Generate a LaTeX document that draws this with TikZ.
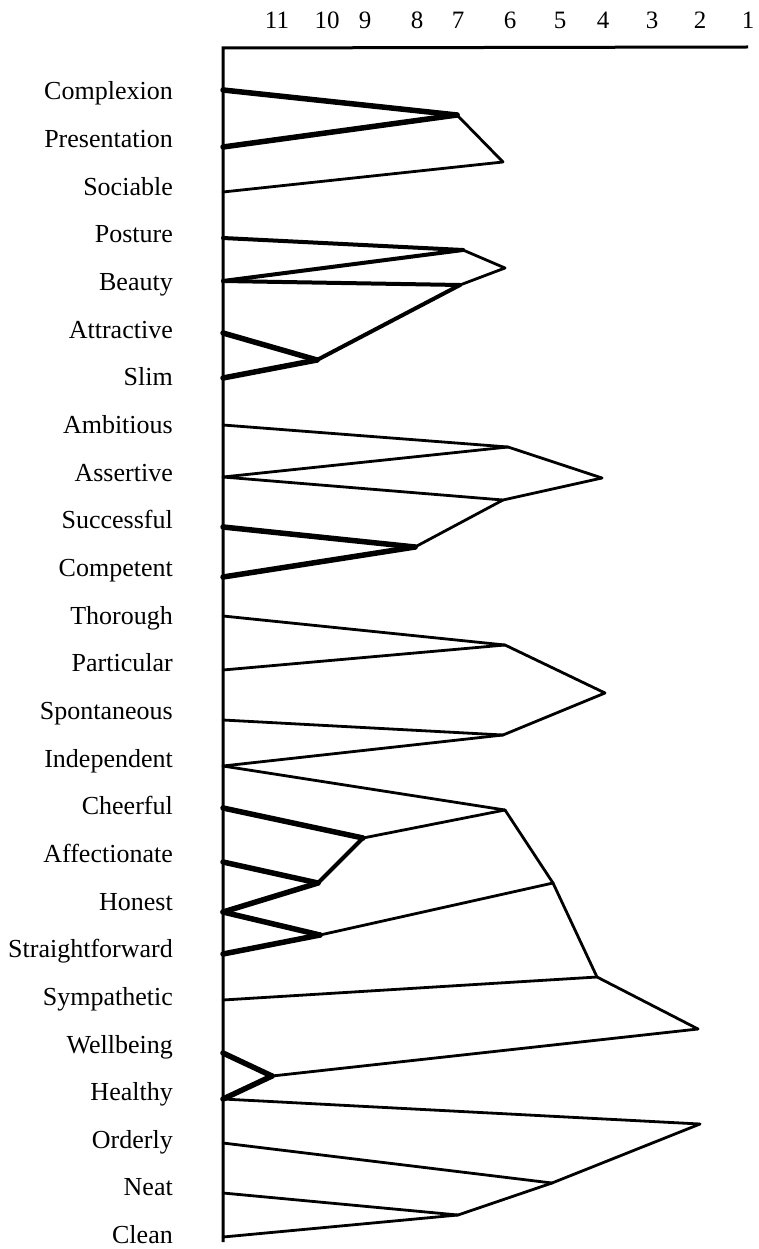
\documentclass[tikz,border=0pt]{standalone}
\usepackage{fontspec}
\setmainfont{Liberation Serif}

\begin{document}
\begin{tikzpicture}[x=1pt, y=-1pt,
  trait/.style={anchor=base east, inner sep=0pt, font=\fontsize{26}{31}\selectfont},
  level/.style={anchor=base, inner sep=0pt, font=\fontsize{25}{30}\selectfont},
  axis/.style={draw, line width=3pt, line join=miter},
  link/.style={draw, line width=2.8pt, line cap=round},
  mid link/.style={link, line width=4pt},
  bold link/.style={link, line width=5.5pt}
]
  \useasboundingbox (0,0) rectangle (759,1249);

  % axis and scale
  \coordinate (origin) at (223,48);
  \coordinate (xend) at (748,47);
  \coordinate (yend) at (223,1242);
  \draw[axis] (xend) -- (origin) -- (yend);
  \foreach \v/\x in {11/277, 10/327, 9/365, 8/417, 7/458, 6/510,
                     5/560, 4/603, 3/652, 2/700, 1/748}
    \node[level] (tick\v) at (\x,29) {\v};

  % traits
  \foreach \name/\txt [count=\k from 0] in {complexion/Complexion,
      presentation/Presentation, sociable/Sociable, posture/Posture,
      beauty/Beauty, attractive/Attractive, slim/Slim, ambitious/Ambitious,
      assertive/Assertive, successful/Successful, competent/Competent,
      thorough/Thorough, particular/Particular, spontaneous/Spontaneous,
      independent/Independent, cheerful/Cheerful, affectionate/Affectionate,
      honest/Honest, straightforward/Straightforward, sympathetic/Sympathetic,
      wellbeing/Wellbeing, healthy/Healthy, orderly/Orderly, neat/Neat,
      clean/Clean}
    \node[trait] (\name) at (173,{100+47.65*\k}) {\txt};

  % where each trait leaves the axis
  \foreach \name/\y in {complexion/90, presentation/147, sociable/192,
      posture/238, beauty/281, attractive/333, slim/378, ambitious/425,
      assertive/477, successful/527, competent/577, thorough/616,
      particular/670, spontaneous/720, independent/766, cheerful/808,
      affectionate/862, honest/912, straightforward/954, sympathetic/1000,
      wellbeing/1053, healthy/1099, orderly/1143, neat/1193, clean/1237}
    \coordinate (\name-a) at (223,\y);

  % joins
  \coordinate (c7a) at (457,115);
  \coordinate (c6a) at (503,162);
  \coordinate (c7b) at (463,250);
  \coordinate (c6b) at (505,268);
  \coordinate (c7c) at (460,285);
  \coordinate (c10a) at (317,360);
  \coordinate (c6c) at (508,447);
  \coordinate (c4a) at (602,478);
  \coordinate (c6d) at (503,500);
  \coordinate (c8a) at (415,547);
  \coordinate (c6e) at (505,645);
  \coordinate (c4b) at (605,693);
  \coordinate (c6f) at (503,735);
  \coordinate (c6g) at (505,810);
  \coordinate (c9a) at (363,838);
  \coordinate (c10b) at (318,883);
  \coordinate (c10c) at (320,935);
  \coordinate (c5a) at (553,883);
  \coordinate (c4c) at (597,977);
  \coordinate (c2a) at (698,1029);
  \coordinate (c11a) at (272,1076);
  \coordinate (c2b) at (700,1124);
  \coordinate (c5b) at (552,1183);
  \coordinate (c7d) at (458,1215);

  % looks
  \draw[bold link] (complexion-a) -- (c7a);
  \draw[bold link] (presentation-a) -- (c7a);
  \draw[link] (c7a) -- (c6a);
  \draw[link] (sociable-a) -- (c6a);
  \draw[mid link] (posture-a) -- (c7b);
  \draw[mid link] (beauty-a) -- (c7b);
  \draw[mid link] (beauty-a) -- (c7c);
  \draw[link] (c7b) -- (c6b);
  \draw[link] (c6b) -- (c7c);
  \draw[mid link] (c7c) -- (c10a);
  \draw[bold link] (attractive-a) -- (c10a);
  \draw[bold link] (slim-a) -- (c10a);

  % drive
  \draw[link] (ambitious-a) -- (c6c);
  \draw[link] (assertive-a) -- (c6c);
  \draw[link] (assertive-a) -- (c6d);
  \draw[link] (c6c) -- (c4a);
  \draw[link] (c4a) -- (c6d);
  \draw[link] (c6d) -- (c8a);
  \draw[bold link] (successful-a) -- (c8a);
  \draw[bold link] (competent-a) -- (c8a);

  % manner
  \draw[link] (thorough-a) -- (c6e);
  \draw[link] (particular-a) -- (c6e);
  \draw[link] (c6e) -- (c4b);
  \draw[link] (c4b) -- (c6f);
  \draw[link] (spontaneous-a) -- (c6f);
  \draw[link] (independent-a) -- (c6f);
  \draw[link] (independent-a) -- (c6g);
  \draw[bold link] (cheerful-a) -- (c9a);
  \draw[bold link] (affectionate-a) -- (c10b);
  \draw[mid link] (c10b) -- (c9a);
  \draw[bold link] (honest-a) -- (c10b);
  \draw[bold link] (honest-a) -- (c10c);
  \draw[bold link] (straightforward-a) -- (c10c);
  \draw[link] (c9a) -- (c6g);
  \draw[link] (c10c) -- (c5a);
  \draw[link] (c6g) -- (c5a);
  \draw[link] (c5a) -- (c4c);
  \draw[link] (sympathetic-a) -- (c4c);

  % health and order
  \draw[link] (c4c) -- (c2a);
  \draw[link] (c2a) -- (c11a);
  \draw[bold link] (wellbeing-a) -- (c11a);
  \draw[bold link] (healthy-a) -- (c11a);
  \draw[link] (healthy-a) -- (c2b);
  \draw[link] (c2b) -- (c5b);
  \draw[link] (orderly-a) -- (c5b);
  \draw[link] (c5b) -- (c7d);
  \draw[link] (neat-a) -- (c7d);
  \draw[link] (clean-a) -- (c7d);
\end{tikzpicture}
\end{document}
